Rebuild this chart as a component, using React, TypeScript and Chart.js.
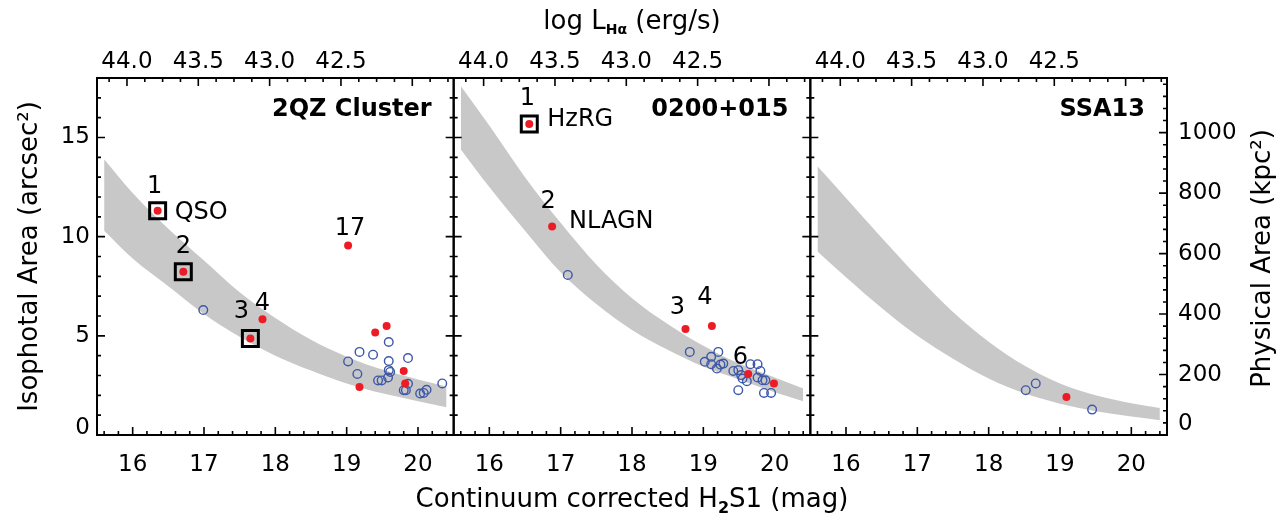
import React, { useEffect, useRef } from 'react';
import { Chart, registerables } from 'chart.js';

Chart.register(...registerables);

const FONT = '"DejaVu Sans", "Liberation Sans", sans-serif';
const RED = '#ed1c24';
const BLUE = '#3d58a8';
const BAND = '#c8c8c8';

// Field names, one per panel
const fieldNames = ['2QZ Cluster', '0200+015', 'SSA13'];

// Tick values
const magTicks = [16, 17, 18, 19, 20];
const lumTicks = [44.0, 43.5, 43.0, 42.5];
const areaTicks = [0, 5, 10, 15];
const physTicks = [0, 200, 400, 600, 800, 1000];

// Axis ranges and conversions
const MAG_MIN = 15.5;
const MAG_MAX = 20.5;
const AREA_MAX = 18;
const KPC2_PER_ARCSEC2 = 65.6;
const LUM_REF = 44.0;
const MAG_AT_LUM_REF = 15.92;
const DEX_PER_MAG = 0.5;
const magToLum = (m: number) => LUM_REF - DEX_PER_MAG * (m - MAG_AT_LUM_REF);

// Expected isophotal-area band, sampled in magnitude
const bandMag = [15.6, 16.0, 16.5, 17.0, 17.5, 18.0, 18.5, 19.0, 19.5, 20.0, 20.4];
const bandUpper2qz = [13.9, 12.2, 10.4, 8.8, 7.2, 5.9, 4.8, 3.95, 3.3, 2.8, 2.45];
const bandLower2qz = [10.3, 8.9, 7.5, 6.1, 4.95, 4.0, 3.25, 2.6, 2.1, 1.7, 1.4];
const bandUpper0200 = [17.6, 15.6, 13.0, 10.7, 8.6, 6.9, 5.6, 4.5, 3.6, 2.9, 2.35];
const bandLower0200 = [14.4, 12.5, 10.3, 8.2, 6.6, 5.3, 4.3, 3.45, 2.8, 2.15, 1.7];
const bandUpperSsa13 = [13.55, 11.95, 9.95, 8.0, 6.2, 4.7, 3.5, 2.6, 2.0, 1.6, 1.36];
const bandLowerSsa13 = [9.25, 7.95, 6.4, 5.0, 3.85, 2.85, 2.1, 1.58, 1.2, 0.93, 0.75];

// 2QZ Cluster: confirmed emitters (filled) and candidates (open)
const qzConfMag = [16.35, 16.71, 17.65, 17.82, 19.02, 19.40, 19.56, 19.80, 19.82, 19.18];
const qzConfArea = [11.31, 8.23, 4.87, 5.83, 9.55, 5.17, 5.49, 3.23, 2.60, 2.42];
const qzAgnIdx = [0, 1, 2];
const qzCandMag = [16.99, 19.02, 19.18, 19.37, 19.59, 19.59, 19.86, 19.15, 19.59, 19.61,
  19.58, 19.44, 19.49, 19.80, 19.83, 19.86, 20.03, 20.08, 20.12, 20.34];
const qzCandArea = [6.30, 3.71, 4.19, 4.05, 4.69, 3.73, 3.88, 3.08, 3.27, 3.18,
  2.90, 2.75, 2.75, 2.26, 2.26, 2.58, 2.09, 2.12, 2.28, 2.60];

// 0200+015
const rgConfMag = [16.56, 16.88, 18.75, 19.12, 19.63, 19.99];
const rgConfArea = [15.68, 10.51, 5.34, 5.49, 3.07, 2.60];
const rgAgnIdx = [0];
const rgCandMag = [17.10, 18.81, 19.02, 19.11, 19.21, 19.11, 19.19, 19.24, 19.28, 19.42,
  19.49, 19.53, 19.55, 19.61, 19.49, 19.66, 19.76, 19.80, 19.76, 19.83, 19.87, 19.85, 19.95];
const rgCandArea = [8.07, 4.19, 3.69, 3.94, 4.19, 3.57, 3.35, 3.55, 3.60, 3.23,
  3.27, 3.02, 2.85, 2.71, 2.26, 3.57, 3.57, 3.23, 2.90, 2.76, 2.76, 2.12, 2.12];

// SSA13
const ssConfMag = [19.09];
const ssConfArea = [1.92];
const ssAgnIdx: number[] = [];
const ssCandMag = [18.52, 18.66, 19.45];
const ssCandArea = [2.26, 2.60, 1.28];

const panels = [
  { name: fieldNames[0], confMag: qzConfMag, confArea: qzConfArea, agn: qzAgnIdx,
    candMag: qzCandMag, candArea: qzCandArea, upper: bandUpper2qz, lower: bandLower2qz },
  { name: fieldNames[1], confMag: rgConfMag, confArea: rgConfArea, agn: rgAgnIdx,
    candMag: rgCandMag, candArea: rgCandArea, upper: bandUpper0200, lower: bandLower0200 },
  { name: fieldNames[2], confMag: ssConfMag, confArea: ssConfArea, agn: ssAgnIdx,
    candMag: ssCandMag, candArea: ssCandArea, upper: bandUpperSsa13, lower: bandLowerSsa13 },
];

// Point annotations: which filled point they belong to, and where the text sits
const pointLabels = [
  { panel: 0, idx: 0, text: '1', dx: -3, dy: -24, align: 'center' },
  { panel: 0, idx: 0, text: 'QSO', dx: 17, dy: 2, align: 'left' },
  { panel: 0, idx: 1, text: '2', dx: 0, dy: -25, align: 'center' },
  { panel: 0, idx: 2, text: '3', dx: -9, dy: -27, align: 'center' },
  { panel: 0, idx: 3, text: '4', dx: 0, dy: -16, align: 'center' },
  { panel: 0, idx: 4, text: '17', dx: 2, dy: -17, align: 'center' },
  { panel: 1, idx: 0, text: '1', dx: -2, dy: -25, align: 'center' },
  { panel: 1, idx: 0, text: 'HzRG', dx: 18, dy: -4, align: 'left' },
  { panel: 1, idx: 1, text: '2', dx: -4, dy: -25, align: 'center' },
  { panel: 1, idx: 1, text: 'NLAGN', dx: 17, dy: -5, align: 'left' },
  { panel: 1, idx: 2, text: '3', dx: -8, dy: -21, align: 'center' },
  { panel: 1, idx: 3, text: '4', dx: -7, dy: -28, align: 'center' },
  { panel: 1, idx: 4, text: '6', dx: -8, dy: -16, align: 'center' },
];

const xIds = ['x1', 'x2', 'x3'];
const topIds = ['t1', 't2', 't3'];

const toXY = (xs: number[], ys: number[]) => xs.map((x, i) => ({ x, y: ys[i] }));

function drawRich(ctx: CanvasRenderingContext2D, parts: { text: string; font: string; dy: number }[], cx: number, y: number) {
  const widths = parts.map((p) => { ctx.font = p.font; return ctx.measureText(p.text).width; });
  let x = cx - widths.reduce((a, b) => a + b, 0) / 2;
  ctx.textAlign = 'left';
  ctx.textBaseline = 'alphabetic';
  parts.forEach((p, i) => {
    ctx.font = p.font;
    ctx.fillText(p.text, x, y + p.dy);
    x += widths[i];
  });
}

const panelDecor = {
  id: 'panelDecor',
  afterDatasetsDraw(chart: any) {
    const { ctx } = chart;
    const yS = chart.scales.y;
    ctx.save();
    ctx.fillStyle = '#000';
    ctx.textBaseline = 'middle';
    ctx.font = `24px ${FONT}`;
    for (const lab of pointLabels) {
      const p = panels[lab.panel];
      const xS = chart.scales[xIds[lab.panel]];
      const px = xS.getPixelForValue(p.confMag[lab.idx]) + lab.dx;
      const py = yS.getPixelForValue(p.confArea[lab.idx]) + lab.dy;
      ctx.textAlign = lab.align;
      ctx.fillText(lab.text, px, py);
    }
    ctx.font = `bold 24px ${FONT}`;
    ctx.textAlign = 'right';
    panels.forEach((p, i) => {
      const xS = chart.scales[xIds[i]];
      ctx.fillText(p.name, xS.right - 22, chart.chartArea.top + 32);
    });
    ctx.restore();
  },
  afterDraw(chart: any) {
    const { ctx } = chart;
    const { top, bottom } = chart.chartArea;
    const yS = chart.scales.y;
    const pS = chart.scales.yPhys;
    const tS = chart.scales.t1;
    const MAJ = 8;
    const MIN = 4;
    ctx.save();
    ctx.strokeStyle = '#000';
    ctx.lineWidth = 1.6;
    ctx.beginPath();
    xIds.forEach((id, i) => {
      const xS = chart.scales[id];
      const left = xS.left;
      const right = xS.right;
      // magnitude ticks: minor every 0.2 mag
      for (let k = Math.ceil(MAG_MIN * 5); k <= Math.floor(MAG_MAX * 5); k++) {
        const x = xS.getPixelForValue(k / 5);
        const len = k % 5 === 0 ? MAJ : MIN;
        ctx.moveTo(x, bottom);
        ctx.lineTo(x, bottom - len);
      }
      // luminosity ticks: minor every 0.125 dex
      const lo = magToLum(MAG_MAX);
      const hi = magToLum(MAG_MIN);
      for (let k = Math.ceil(lo * 8); k <= Math.floor(hi * 8); k++) {
        const x = left + (tS.getPixelForValue(k / 8) - tS.left);
        const len = k % 4 === 0 ? MAJ : MIN;
        ctx.moveTo(x, top);
        ctx.lineTo(x, top + len);
      }
      // isophotal area ticks
      for (let k = 0; k <= AREA_MAX; k++) {
        const y = yS.getPixelForValue(k);
        const len = k % 5 === 0 ? MAJ : MIN;
        ctx.moveTo(left, y);
        ctx.lineTo(left + len, y);
        if (i < 2) {
          ctx.moveTo(right, y);
          ctx.lineTo(right - len, y);
        }
      }
      // physical area ticks on the outer right edge
      if (i === 2) {
        for (let k = 0; k * 40 <= pS.max; k++) {
          const y = pS.getPixelForValue(k * 40);
          const len = k % 5 === 0 ? MAJ : MIN;
          ctx.moveTo(right, y);
          ctx.lineTo(right - len, y);
        }
      }
    });
    ctx.stroke();

    ctx.lineWidth = 2;
    xIds.forEach((id) => {
      const xS = chart.scales[id];
      ctx.strokeRect(xS.left, top, xS.right - xS.left, bottom - top);
    });

    // axis titles
    ctx.fillStyle = '#000';
    const cx = (chart.chartArea.left + chart.chartArea.right) / 2;
    const cy = (top + bottom) / 2;
    drawRich(ctx, [
      { text: 'Continuum corrected H', font: `26px ${FONT}`, dy: 0 },
      { text: '2', font: `bold 16px ${FONT}`, dy: 6 },
      { text: 'S1 (mag)', font: `26px ${FONT}`, dy: 0 },
    ], cx, 507);
    drawRich(ctx, [
      { text: 'log L', font: `26px ${FONT}`, dy: 0 },
      { text: 'Hα', font: `bold 14px ${FONT}`, dy: 5 },
      { text: ' (erg/s)', font: `26px ${FONT}`, dy: 0 },
    ], cx, 29);

    ctx.font = `26px ${FONT}`;
    ctx.textAlign = 'center';
    ctx.textBaseline = 'alphabetic';
    ctx.save();
    ctx.translate(37, cy);
    ctx.rotate(-Math.PI / 2);
    ctx.fillText('Isophotal Area (arcsec²)', 0, 0);
    ctx.restore();
    ctx.save();
    ctx.translate(1270, cy + 2);
    ctx.rotate(-Math.PI / 2);
    ctx.fillText('Physical Area (kpc²)', 0, 0);
    ctx.restore();
    ctx.restore();
  },
};

// the zero labels sit a little above the lower frame edge
const liftedZero = (lift: number) => (c: any) =>
  c.tick && c.tick.value === 0 ? { family: FONT, size: 23, lineHeight: `${lift * 2}px` } : { family: FONT, size: 23 };
const tickFont = { family: FONT, size: 23 };

function buildScales() {
  const scales: any = {};
  xIds.forEach((id) => {
    scales[id] = {
      type: 'linear', position: 'bottom', stack: 'mag', min: MAG_MIN, max: MAG_MAX,
      afterBuildTicks: (s: any) => { s.ticks = magTicks.map((v) => ({ value: v })); },
      afterFit: (s: any) => { s.height = 85; },
      grid: { display: false, drawTicks: false },
      border: { display: false },
      ticks: { font: tickFont, color: '#000', padding: 16, maxRotation: 0, autoSkip: false, callback: (v: number) => String(v) },
    };
  });
  topIds.forEach((id) => {
    scales[id] = {
      type: 'linear', position: 'top', stack: 'lum', reverse: true,
      min: magToLum(MAG_MAX), max: magToLum(MAG_MIN),
      afterBuildTicks: (s: any) => { s.ticks = lumTicks.map((v) => ({ value: v })); },
      afterFit: (s: any) => { s.height = 78; },
      grid: { display: false, drawTicks: false },
      border: { display: false },
      ticks: { font: tickFont, color: '#000', padding: 2, maxRotation: 0, autoSkip: false, callback: (v: number) => v.toFixed(1) },
    };
  });
  scales.y = {
    type: 'linear', position: 'left', min: 0, max: AREA_MAX,
    afterBuildTicks: (s: any) => { s.ticks = areaTicks.map((v) => ({ value: v })); },
    afterFit: (s: any) => { s.width = 97; },
    grid: { display: false, drawTicks: false },
    border: { display: false },
    ticks: {
      font: liftedZero(7), color: '#000', padding: 7, autoSkip: false,
      callback: (v: number) => (v === 0 ? ['0', ''] : String(v)),
    },
  };
  scales.yPhys = {
    type: 'linear', position: 'right', min: 0, max: AREA_MAX * KPC2_PER_ARCSEC2,
    afterBuildTicks: (s: any) => { s.ticks = physTicks.map((v) => ({ value: v })); },
    afterFit: (s: any) => { s.width = 121; },
    grid: { display: false, drawTicks: false },
    border: { display: false },
    ticks: {
      font: liftedZero(11), color: '#000', padding: 11, autoSkip: false,
      callback: (v: number) => (v === 0 ? ['0', ''] : String(v)),
    },
  };
  return scales;
}

function buildDatasets() {
  const sets: any[] = [];
  panels.forEach((p, i) => {
    const xAxisID = xIds[i];
    sets.push({
      type: 'scatter', xAxisID, yAxisID: 'y', order: 0,
      data: toXY(p.confMag, p.confArea),
      pointRadius: 4, pointBackgroundColor: RED, pointBorderWidth: 0, pointBorderColor: RED,
    });
    sets.push({
      type: 'scatter', xAxisID, yAxisID: 'y', order: 1,
      data: p.agn.map((k) => ({ x: p.confMag[k], y: p.confArea[k] })),
      pointStyle: 'rect', pointRadius: 11.3, pointBorderWidth: 3,
      pointBorderColor: '#000', pointBackgroundColor: 'rgba(0,0,0,0)',
    });
    sets.push({
      type: 'scatter', xAxisID, yAxisID: 'y', order: 2,
      data: toXY(p.candMag, p.candArea),
      pointRadius: 4.3, pointBorderWidth: 1.4, pointBorderColor: BLUE, pointBackgroundColor: 'rgba(0,0,0,0)',
    });
    sets.push({
      type: 'line', xAxisID, yAxisID: 'y', order: 5,
      data: toXY(bandMag, p.upper),
      fill: '+1', backgroundColor: BAND, borderColor: 'rgba(0,0,0,0)', borderWidth: 0,
      pointRadius: 0, cubicInterpolationMode: 'monotone',
    });
    sets.push({
      type: 'line', xAxisID, yAxisID: 'y', order: 5,
      data: toXY(bandMag, p.lower),
      fill: false, borderColor: 'rgba(0,0,0,0)', borderWidth: 0,
      pointRadius: 0, cubicInterpolationMode: 'monotone',
    });
  });
  return sets;
}

export default function App() {
  const ref = useRef<HTMLCanvasElement>(null);
  useEffect(() => {
    if (!ref.current) return;
    const chart = new Chart(ref.current, {
      type: 'scatter',
      data: { datasets: buildDatasets() },
      options: {
        responsive: false,
        animation: false,
        events: [],
        layout: { padding: 0 },
        plugins: { legend: { display: false }, tooltip: { enabled: false } },
        scales: buildScales(),
      },
      plugins: [panelDecor],
    } as any);
    return () => chart.destroy();
  }, []);
  return (
    <div style={{ position: 'absolute', left: 0, top: 0, width: 1288, height: 520, background: '#fff' }}>
      <canvas ref={ref} width={1288} height={520} style={{ display: 'block', width: 1288, height: 520 }} />
    </div>
  );
}
